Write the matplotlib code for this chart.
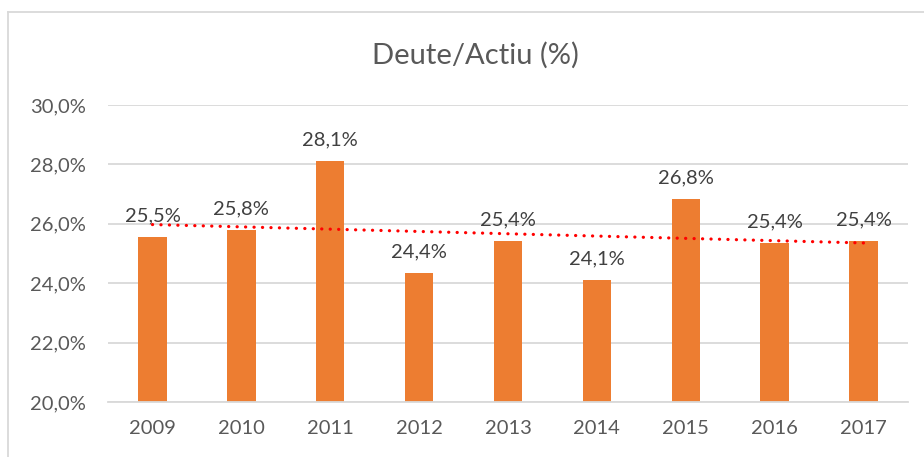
import numpy as np
import matplotlib.pyplot as plt
from matplotlib.lines import Line2D

years = ['2009', '2010', '2011', '2012', '2013', '2014', '2015', '2016', '2017']
deute_actiu = [25.55, 25.80, 28.13, 24.35, 25.43, 24.10, 26.83, 25.36, 25.43]
labels = ['25,5%', '25,8%', '28,1%', '24,4%', '25,4%', '24,1%', '26,8%', '25,4%', '25,4%']
y_ticks = [20, 22, 24, 26, 28, 30]

plt.rcParams['font.family'] = ['Lato', 'DejaVu Sans']
grey = '#595959'

fig = plt.figure(figsize=(9.24, 4.57), dpi=100)
W, H = 924, 457
ax = fig.add_axes([108 / W, 1 - 402 / H, 800 / W, (402 - 105) / H])

x = np.arange(len(years))
ax.bar(x, deute_actiu, width=0.32, color='#ED7D31', zorder=2)

# linear trend line (Excel style)
slope, icpt = np.polyfit(x, deute_actiu, 1)
ax.plot([x[0], x[-1]], [icpt + slope * x[0], icpt + slope * x[-1]],
        color='#FF0000', linestyle=(0, (0.05, 2.6)), linewidth=2.3,
        dash_capstyle='round', zorder=3)

for xi, v, lab in zip(x, deute_actiu, labels):
    ax.annotate(lab, (xi, v), xytext=(0, 9), textcoords='offset points',
                ha='center', va='bottom', fontsize=14.5, color='#404040')

ax.set_xlim(-0.5, len(years) - 0.5)
ax.set_ylim(20, 30)
ax.set_yticks(y_ticks)
ax.set_yticklabels([f'{t},0%' for t in y_ticks])
ax.set_xticks(x)
ax.set_xticklabels(years)
ax.tick_params(length=0, labelsize=14.5, labelcolor=grey)
ax.tick_params(axis='y', pad=16)
ax.tick_params(axis='x', pad=13)
ax.grid(axis='y', color='#D9D9D9', linewidth=1.3, zorder=0)
for s in ['top', 'right', 'left']:
    ax.spines[s].set_visible(False)
ax.spines['bottom'].set_color('#D9D9D9')
ax.spines['bottom'].set_linewidth(1.3)

fig.text(475 / W, 1 - 55 / H, 'Deute/Actiu (%)', ha='center', va='center',
         fontsize=21, color=grey)

# chart border (only left and top are visible in the crop)
fig.add_artist(Line2D([8 / W, 8 / W], [0, 1 - 12 / H], color='#D9D9D9', linewidth=1.3))
fig.add_artist(Line2D([8 / W, 1], [1 - 12 / H, 1 - 12 / H], color='#D9D9D9', linewidth=1.3))

fig.savefig('out.png', dpi=100, facecolor='white')
